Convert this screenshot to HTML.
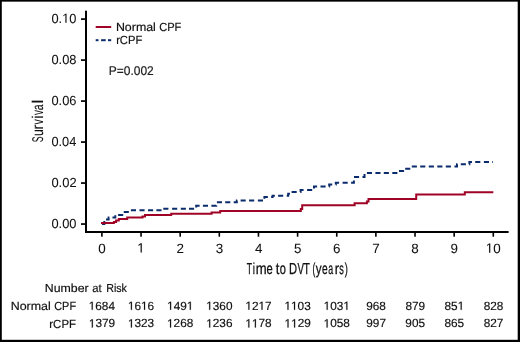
<!DOCTYPE html>
<html><head><meta charset="utf-8"><style>
html,body{margin:0;padding:0;background:#fff;}
body{width:520px;height:342px;overflow:hidden;}
svg{display:block;will-change:transform;}
text{font-family:"Liberation Sans", sans-serif;fill:#111;text-rendering:geometricPrecision;font-kerning:none;stroke:#111;stroke-width:0.18px;}
.pv{fill:#222;}
.g1{fill:#111;stroke:#111;stroke-width:0.18px;}
.ttl{stroke-width:0.3px;}
.sv{stroke-width:0.1px;}
.tk{stroke-width:0.06px;}
</style></head><body>
<svg width="520" height="342" viewBox="0 0 520 342">
<defs><path id="g1" vector-effect="non-scaling-stroke" d="M515 0V1237L197 1010V1180L530 1409H696V0Z"/></defs>
<rect x="0" y="0" width="520" height="1.65" fill="#000"/>
<rect x="0" y="0" width="1.8" height="342" fill="#000"/>
<rect x="517.7" y="0" width="2.3" height="342" fill="#000"/>
<rect x="0" y="339.8" width="520" height="2.2" fill="#000"/>
<rect x="85" y="10.7" width="2" height="222.3" fill="#000"/>
<rect x="85" y="231" width="423.6" height="2" fill="#000"/>
<rect x="81" y="223.20" width="4.5" height="1.7" fill="#000"/>
<rect x="81" y="182.21" width="4.5" height="1.7" fill="#000"/>
<rect x="81" y="141.22" width="4.5" height="1.7" fill="#000"/>
<rect x="81" y="100.23" width="4.5" height="1.7" fill="#000"/>
<rect x="81" y="59.24" width="4.5" height="1.7" fill="#000"/>
<rect x="81" y="18.25" width="4.5" height="1.7" fill="#000"/>
<rect x="101.10" y="232" width="1.6" height="4.7" fill="#000"/>
<rect x="140.24" y="232" width="1.6" height="4.7" fill="#000"/>
<rect x="179.38" y="232" width="1.6" height="4.7" fill="#000"/>
<rect x="218.52" y="232" width="1.6" height="4.7" fill="#000"/>
<rect x="257.66" y="232" width="1.6" height="4.7" fill="#000"/>
<rect x="296.80" y="232" width="1.6" height="4.7" fill="#000"/>
<rect x="335.94" y="232" width="1.6" height="4.7" fill="#000"/>
<rect x="375.08" y="232" width="1.6" height="4.7" fill="#000"/>
<rect x="414.22" y="232" width="1.6" height="4.7" fill="#000"/>
<rect x="453.36" y="232" width="1.6" height="4.7" fill="#000"/>
<rect x="492.50" y="232" width="1.6" height="4.7" fill="#000"/>
<path d="M102.00,223.90 L104.30,223.90 L104.30,221.10 M106.00,219.40 L108.60,219.40 L108.60,217.60 L109.30,217.60 M112.45,217.60 L115.30,217.60 L115.30,215.35 M118.10,215.00 L123.20,215.00 M123.75,211.90 L128.85,211.90 M130.90,210.30 L136.00,210.30 M139.50,210.30 L144.60,210.30 M148.00,210.30 L153.10,210.30 M156.40,210.30 L161.50,210.30 M163.30,208.70 L168.40,208.70 M172.10,208.70 L177.20,208.70 M180.80,208.70 L185.90,208.70 M189.00,208.70 L194.10,208.70 M196.20,207.50 L196.20,205.80 L199.60,205.80 M202.90,205.80 L208.00,205.80 M211.40,205.80 L216.30,205.80 L216.30,205.60 M216.90,202.20 L222.00,202.20 M225.20,202.20 L230.30,202.20 M233.70,202.20 L236.80,202.20 L236.80,200.60 L237.20,200.60 M240.60,200.60 L245.70,200.60 M249.10,200.60 L254.20,200.60 M257.90,200.60 L263.00,200.60 M264.40,198.73 L264.40,197.10 L267.87,197.10 M271.13,197.10 L272.60,197.10 L272.60,195.70 L274.83,195.70 M278.10,195.70 L283.20,195.70 M286.75,195.70 L288.20,195.70 L288.20,193.80 L289.95,193.80 M291.60,191.90 L296.70,191.90 M300.25,191.90 L300.60,191.90 L300.60,190.10 L303.55,190.10 M307.10,190.10 L312.20,190.10 M314.00,188.50 L314.00,186.50 L317.10,186.50 M320.50,186.50 L325.60,186.50 M329.13,186.50 L329.20,186.50 L329.20,184.50 L332.23,184.50 M335.77,184.50 L335.80,184.50 L335.80,182.70 L339.07,182.70 M342.60,182.70 L347.70,182.70 M351.10,182.70 L353.90,182.70 L353.90,180.40 M354.00,177.10 L359.10,177.10 M362.50,177.10 L364.50,177.10 L364.50,174.00 M366.90,173.00 L372.00,173.00 M375.40,173.00 L380.50,173.00 M383.80,173.00 L388.90,173.00 M392.30,173.00 L397.40,173.00 M399.00,170.90 L404.10,170.90 M405.20,168.80 L410.30,168.80 M411.80,166.40 L416.90,166.40 M420.20,166.40 L425.30,166.40 M428.80,166.40 L433.90,166.40 M437.30,166.40 L442.40,166.40 M445.80,166.40 L450.90,166.40 M454.50,166.40 L457.00,166.40 L457.00,164.20 L457.40,164.20 M460.80,164.20 L465.90,164.20 M469.15,164.20 L469.40,164.20 L469.40,161.90 L471.95,161.90 M475.20,161.90 L480.30,161.90 M483.90,161.90 L489.00,161.90 M492.00,161.90 L492.70,161.90" fill="none" stroke="#0a2b6c" stroke-width="2"/>
<path d="M101.0,222.9 L113.9,222.9 L113.9,221.9 L116.1,221.9 L116.1,220.6 L118.8,220.6 L118.8,219.0 L127.2,219.0 L127.2,217.5 L142.5,217.5 L142.5,216.4 L145.0,216.4 L145.0,215.1 L171.2,215.1 L171.2,213.8 L211.6,213.8 L211.6,212.4 L220.2,212.4 L220.2,210.9 L300.8,210.9 L300.8,209.1 L302.2,209.1 L302.2,205.2 L354.6,205.2 L354.6,203.2 L366.9,203.2 L366.9,201.5 L368.5,201.5 L368.5,199.0 L416.2,199.0 L416.2,194.5 L464.8,194.5 L464.8,192.2 L493.3,192.2" fill="none" stroke="#a00326" stroke-width="2"/>
<rect x="95.7" y="26" width="15.5" height="2" fill="#a00326"/>
<rect x="95.7" y="39.2" width="2.8" height="2" fill="#0a2b6c"/>
<rect x="101.1" y="39.2" width="4.6" height="2" fill="#0a2b6c"/>
<rect x="108" y="39.2" width="3.2" height="2" fill="#0a2b6c"/>
<text class="tk" font-size="13.17" transform="translate(51.41,227.67) scale(0.977,1)">0.00</text>
<text class="tk" font-size="13.17" transform="translate(51.41,186.68) scale(0.983,1)">0.02</text>
<text class="tk" font-size="13.17" transform="translate(51.42,145.69) scale(0.972,1)">0.04</text>
<text class="tk" font-size="13.17" transform="translate(51.41,104.70) scale(0.977,1)">0.06</text>
<text class="tk" font-size="13.17" transform="translate(51.41,63.71) scale(0.977,1)">0.08</text>
<use href="#g1" class="g1 tk" transform="translate(62.15,22.72) scale(0.00628,-0.00643)"/>
<text class="tk" font-size="13.17" transform="translate(51.41,22.72) scale(0.977,1)">0. 0</text>
<text class="tk" font-size="13.40" transform="translate(98.31,252.68)">0</text>
<use href="#g1" class="g1 tk" transform="translate(137.25,252.55) scale(0.00654,-0.00654)"/>
<text class="tk" font-size="13.40" transform="translate(137.25,252.55)"> </text>
<text class="tk" font-size="13.40" transform="translate(176.53,252.68)">2</text>
<text class="tk" font-size="13.40" transform="translate(215.74,252.68)">3</text>
<text class="tk" font-size="13.40" transform="translate(254.88,252.68)">4</text>
<text class="tk" font-size="13.40" transform="translate(293.95,252.55)">5</text>
<text class="tk" font-size="13.40" transform="translate(333.02,252.68)">6</text>
<text class="tk" font-size="13.40" transform="translate(372.23,252.68)">7</text>
<text class="tk" font-size="13.40" transform="translate(411.37,252.68)">8</text>
<text class="tk" font-size="13.40" transform="translate(450.57,252.68)">9</text>
<use href="#g1" class="g1 tk" transform="translate(485.72,252.68) scale(0.00654,-0.00654)"/>
<text class="tk" font-size="13.40" transform="translate(485.72,252.68)"> 0</text>
<text class="t" font-size="11.80" transform="translate(115.91,30.60) scale(1.051,1)">Normal</text>
<text class="t" font-size="11.80" transform="translate(159.14,30.60) scale(0.943,1)">CPF</text>
<text class="t" font-size="11.80" transform="translate(116.13,43.50) scale(0.952,1)">rCPF</text>
<text class="pv" font-size="12.68" transform="translate(108.84,75.37) scale(0.944,1)">P=0.002</text>
<text class="ttl" font-size="15.84" transform="translate(246.73,273.90) scale(0.543,1)">T</text>
<text class="ttl" font-size="15.84" transform="translate(252.70,273.90) scale(0.631,1)">i</text>
<text class="ttl" font-size="15.84" transform="translate(255.71,273.90) scale(0.827,1)">m</text>
<text class="ttl" font-size="15.84" transform="translate(266.45,273.90) scale(0.710,1)">e</text>
<text class="ttl" font-size="15.84" transform="translate(275.67,273.90) scale(0.818,1)">t</text>
<text class="ttl" font-size="15.84" transform="translate(279.76,273.90) scale(0.697,1)">o</text>
<text class="ttl" font-size="15.84" transform="translate(289.11,273.90) scale(0.705,1)">D</text>
<text class="ttl" font-size="15.84" transform="translate(297.50,273.90) scale(0.612,1)">V</text>
<text class="ttl" font-size="15.84" transform="translate(303.59,273.90) scale(0.653,1)">T</text>
<text class="ttl" font-size="15.84" transform="translate(312.39,273.90) scale(0.538,1)">(</text>
<text class="ttl" font-size="15.84" transform="translate(315.80,273.90) scale(0.732,1)">y</text>
<text class="ttl" font-size="15.84" transform="translate(321.99,273.90) scale(0.644,1)">e</text>
<text class="ttl" font-size="15.84" transform="translate(328.35,273.90) scale(0.558,1)">a</text>
<text class="ttl" font-size="15.84" transform="translate(334.82,273.90) scale(0.825,1)">r</text>
<text class="ttl" font-size="15.84" transform="translate(339.22,273.90) scale(0.575,1)">s</text>
<text class="ttl" font-size="15.84" transform="translate(344.80,273.90) scale(0.586,1)">)</text>
<text class="sv" font-size="15.55" transform="translate(42.90,142.25) rotate(-90) scale(0.556,1)">S</text>
<text class="sv" font-size="15.55" transform="translate(42.90,136.03) rotate(-90) scale(0.778,1)">u</text>
<text class="sv" font-size="15.55" transform="translate(42.90,129.14) rotate(-90) scale(0.791,1)">r</text>
<text class="sv" font-size="15.55" transform="translate(42.90,124.50) rotate(-90) scale(0.682,1)">v</text>
<text class="sv" font-size="15.55" transform="translate(42.90,118.64) rotate(-90) scale(0.900,1)">i</text>
<text class="sv" font-size="15.55" transform="translate(42.90,115.00) rotate(-90) scale(0.630,1)">v</text>
<text class="sv" font-size="15.55" transform="translate(42.90,110.22) rotate(-90) scale(0.668,1)">a</text>
<text class="sv" font-size="15.55" transform="translate(42.90,103.52) rotate(-90) scale(1.093,1)">l</text>
<text class="t" font-size="11.60" transform="translate(44.76,292.10) scale(1.064,1)">Number</text>
<text class="t" font-size="11.60" transform="translate(92.25,292.10) scale(0.975,1)">at</text>
<text class="t" font-size="11.60" transform="translate(106.14,292.10) scale(0.924,1)">Risk</text>
<text class="t" font-size="11.80" transform="translate(10.71,310.00) scale(1.054,1)">Normal</text>
<text class="t" font-size="11.80" transform="translate(54.26,310.00) scale(0.923,1)">CPF</text>
<text class="t" font-size="11.80" transform="translate(49.31,327.70) scale(0.971,1)">rCPF</text>
<use href="#g1" class="g1 t" transform="translate(88.72,309.86) scale(0.00576,-0.00576)"/>
<text class="t" font-size="11.80" transform="translate(88.72,309.86)"> 684</text>
<use href="#g1" class="g1 t" transform="translate(88.83,327.46) scale(0.00576,-0.00576)"/>
<text class="t" font-size="11.80" transform="translate(88.83,327.46)"> 379</text>
<use href="#g1" class="g1 t" transform="translate(127.92,309.86) scale(0.00576,-0.00576)"/>
<use href="#g1" class="g1 t" transform="translate(141.04,309.86) scale(0.00576,-0.00576)"/>
<text class="t" font-size="11.80" transform="translate(127.92,309.86)"> 6 6</text>
<use href="#g1" class="g1 t" transform="translate(127.92,327.46) scale(0.00576,-0.00576)"/>
<text class="t" font-size="11.80" transform="translate(127.92,327.46)"> 323</text>
<use href="#g1" class="g1 t" transform="translate(167.11,309.86) scale(0.00576,-0.00576)"/>
<use href="#g1" class="g1 t" transform="translate(186.80,309.86) scale(0.00576,-0.00576)"/>
<text class="t" font-size="11.80" transform="translate(167.11,309.86)"> 49 </text>
<use href="#g1" class="g1 t" transform="translate(167.06,327.46) scale(0.00576,-0.00576)"/>
<text class="t" font-size="11.80" transform="translate(167.06,327.46)"> 268</text>
<use href="#g1" class="g1 t" transform="translate(206.20,309.86) scale(0.00576,-0.00576)"/>
<text class="t" font-size="11.80" transform="translate(206.20,309.86)"> 360</text>
<use href="#g1" class="g1 t" transform="translate(206.20,327.46) scale(0.00576,-0.00576)"/>
<text class="t" font-size="11.80" transform="translate(206.20,327.46)"> 236</text>
<use href="#g1" class="g1 t" transform="translate(245.39,309.86) scale(0.00576,-0.00576)"/>
<use href="#g1" class="g1 t" transform="translate(258.52,309.86) scale(0.00576,-0.00576)"/>
<text class="t" font-size="11.80" transform="translate(245.39,309.86)"> 2 7</text>
<use href="#g1" class="g1 t" transform="translate(245.34,327.46) scale(0.00576,-0.00576)"/>
<use href="#g1" class="g1 t" transform="translate(251.90,327.46) scale(0.00576,-0.00576)"/>
<text class="t" font-size="11.80" transform="translate(245.34,327.46)">  78</text>
<use href="#g1" class="g1 t" transform="translate(284.48,309.86) scale(0.00576,-0.00576)"/>
<use href="#g1" class="g1 t" transform="translate(291.04,309.86) scale(0.00576,-0.00576)"/>
<text class="t" font-size="11.80" transform="translate(284.48,309.86)">  03</text>
<use href="#g1" class="g1 t" transform="translate(284.53,327.46) scale(0.00576,-0.00576)"/>
<use href="#g1" class="g1 t" transform="translate(291.10,327.46) scale(0.00576,-0.00576)"/>
<text class="t" font-size="11.80" transform="translate(284.53,327.46)">  29</text>
<use href="#g1" class="g1 t" transform="translate(323.67,309.86) scale(0.00576,-0.00576)"/>
<use href="#g1" class="g1 t" transform="translate(343.36,309.86) scale(0.00576,-0.00576)"/>
<text class="t" font-size="11.80" transform="translate(323.67,309.86)"> 03 </text>
<use href="#g1" class="g1 t" transform="translate(323.62,327.46) scale(0.00576,-0.00576)"/>
<text class="t" font-size="11.80" transform="translate(323.62,327.46)"> 058</text>
<text class="t" font-size="11.80" transform="translate(366.21,309.86)">968</text>
<text class="t" font-size="11.80" transform="translate(366.27,327.46)">997</text>
<text class="t" font-size="11.80" transform="translate(405.41,309.86)">879</text>
<text class="t" font-size="11.80" transform="translate(405.35,327.46)">905</text>
<use href="#g1" class="g1 t" transform="translate(457.68,309.86) scale(0.00576,-0.00576)"/>
<text class="t" font-size="11.80" transform="translate(444.55,309.86)">85 </text>
<text class="t" font-size="11.80" transform="translate(444.49,327.46)">865</text>
<text class="t" font-size="11.80" transform="translate(483.63,309.86)">828</text>
<text class="t" font-size="11.80" transform="translate(483.69,327.46)">827</text>
</svg>
</body></html>
